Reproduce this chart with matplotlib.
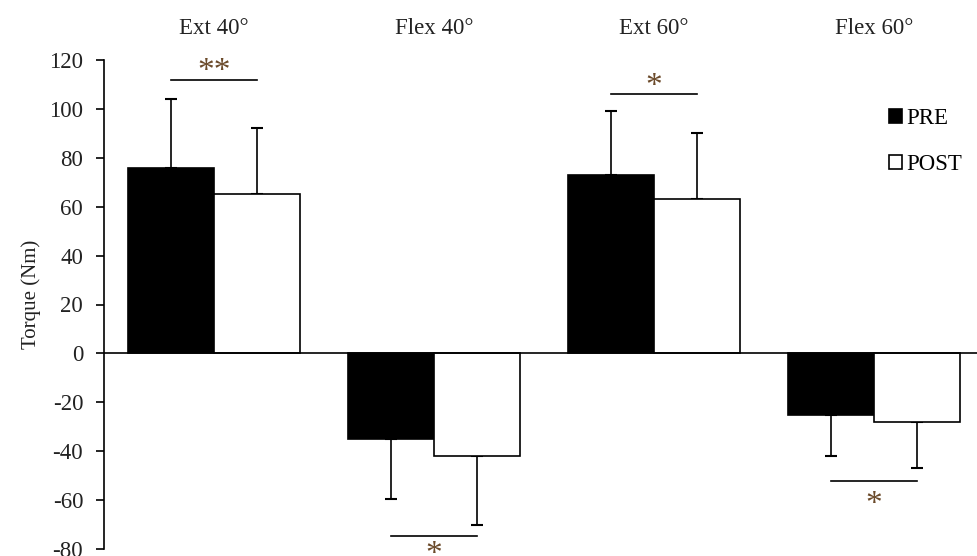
import numpy as np
import matplotlib
matplotlib.use("Agg")
import matplotlib.pyplot as plt

plt.rcParams["font.family"] = ["Liberation Serif", "DejaVu Serif"]

categories = ["Ext 40°", "Flex 40°", "Ext 60°", "Flex 60°"]
pre = [76, -35, 73, -25]
post = [65, -42, 63, -28]
pre_sd = [28, 24.5, 26, 17]
post_sd = [27, 28, 27, 19]

sig_labels = ["**", "*", "*", "*"]
sig_line_y = [112, -74.5, 106, -52]
sig_text_y = [115, -82.5, 109, -62]

yticks = [-80, -60, -40, -20, 0, 20, 40, 60, 80, 100, 120]

x = np.arange(len(categories))
w = 0.39
text_color = "#222222"
star_color = "#6b4a2a"

fig = plt.figure(figsize=(9.77, 5.56), dpi=100)
ax = fig.add_axes([104 / 977, 1 - 549 / 556, 880 / 977, 489 / 556])


def one_sided(vals, sd):
    lower = [s if v < 0 else 0 for v, s in zip(vals, sd)]
    upper = [s if v >= 0 else 0 for v, s in zip(vals, sd)]
    return [lower, upper]


ax.bar(x - w / 2, pre, w, color="black", edgecolor="black", linewidth=1.2,
       label="PRE", zorder=2)
ax.bar(x + w / 2, post, w, color="white", edgecolor="black", linewidth=1.2,
       label="POST", zorder=2)
ax.errorbar(x - w / 2, pre, yerr=one_sided(pre, pre_sd), fmt="none",
            ecolor="black", elinewidth=1.2, capsize=4.5, capthick=1.5, zorder=1)
ax.errorbar(x + w / 2, post, yerr=one_sided(post, post_sd), fmt="none",
            ecolor="black", elinewidth=1.2, capsize=4.5, capthick=1.5, zorder=1)

ax.axhline(0, color="black", linewidth=1.2, zorder=3)

for i in range(len(categories)):
    ax.plot([x[i] - w / 2, x[i] + w / 2], [sig_line_y[i]] * 2,
            color="black", linewidth=1.2, clip_on=False)
    ax.text(x[i], sig_text_y[i], sig_labels[i], ha="center", va="center",
            fontsize=24, color=star_color, clip_on=False)

ax.set_xlim(-0.5, 3.5)
ax.set_ylim(-80, 120)
ax.set_yticks(yticks)
ax.set_yticklabels([str(t) for t in yticks])
ax.tick_params(axis="y", direction="out", length=6, width=1.2, pad=9,
               labelsize=16.5, labelcolor=text_color)

ax.xaxis.tick_top()
ax.set_xticks(x)
ax.set_xticklabels(categories)
ax.tick_params(axis="x", length=0, pad=15, labelsize=16.5, labelcolor=text_color)

for side in ["top", "right", "bottom"]:
    ax.spines[side].set_visible(False)
ax.spines["left"].set_linewidth(1.2)

ax.set_ylabel("Torque (Nm)", fontsize=15, color=text_color)
ax.yaxis.set_label_coords(-0.072, 0.52)

ax.legend(loc="upper left", bbox_to_anchor=(889 / 977, 1 - 108 / 556),
          bbox_transform=fig.transFigure, frameon=False, fontsize=16.5,
          handlelength=0.55, handleheight=0.55, handletextpad=0.2,
          labelspacing=1.1, borderpad=0, borderaxespad=0)

plt.savefig("out.png", dpi=100)
